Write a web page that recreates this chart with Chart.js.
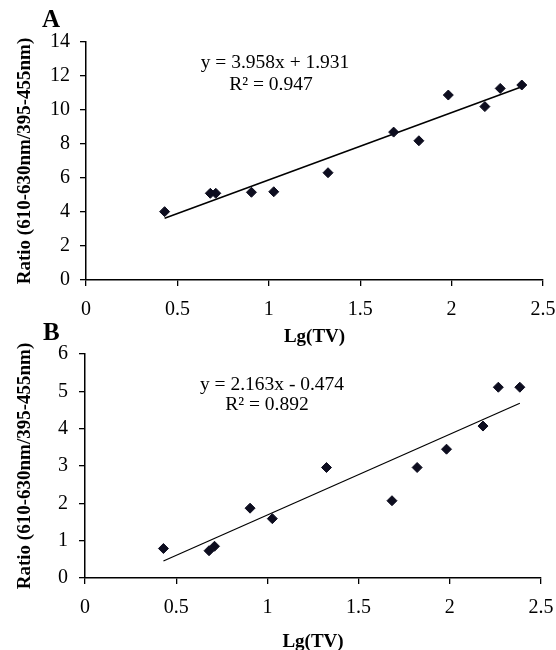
<!DOCTYPE html>
<html>
<head>
<meta charset="utf-8">
<script src="https://cdn.jsdelivr.net/npm/chart.js@4.4.1/dist/chart.umd.min.js"></script>
<style>
    html, body { margin: 0; padding: 0; background: #fff; overflow: hidden; }
    #wrap { position: relative; width: 556px; height: 650px; }
    canvas { position: absolute; left: 0; }
    #chartA { top: 0; }
    #chartB { top: 316px; }
</style>
</head>
<body>
<div id="wrap">
    <canvas id="chartA" width="556" height="350"></canvas>
    <canvas id="chartB" width="556" height="340"></canvas>
</div>
<script>
// Lg(TV) values, shared by both panels
const lgTV = [0.43, 0.68, 0.71, 0.905, 1.027, 1.324, 1.683, 1.821, 1.982, 2.182, 2.266, 2.384];
// panel A ratios
const ratioA = [4.02, 5.1, 5.1, 5.16, 5.19, 6.31, 8.7, 8.19, 10.88, 10.2, 11.27, 11.47];
// panel B ratios
const ratioB = [0.79, 0.73, 0.85, 1.87, 1.59, 2.96, 2.07, 2.96, 3.45, 4.07, 5.11, 5.11];

// trendlines as printed on the chart
const fitA = { slope: 3.958, intercept: 1.931, label: 'y = 3.958x + 1.931', r2: 'R² = 0.947' };
const fitB = { slope: 2.163, intercept: -0.474, label: 'y = 2.163x - 0.474', r2: 'R² = 0.892' };

const xTicks = [0, 0.5, 1, 1.5, 2, 2.5];
const yTicksA = [0, 2, 4, 6, 8, 10, 12, 14];
const yTicksB = [0, 1, 2, 3, 4, 5, 6];

const yTitle = 'Ratio (610-630nm/395-455nm)';
const xTitle = 'Lg(TV)';

const serif = "'Liberation Serif', 'Times New Roman', serif";

// panel letter + trendline equation
const notesPlugin = {
    id: 'notes',
    afterDraw(chart, args, opts) {
        const ctx = chart.ctx;
        ctx.save();
        ctx.fillStyle = '#000';
        ctx.textBaseline = 'alphabetic';
        ctx.textAlign = 'left';
        ctx.font = `bold 25px ${serif}`;
        ctx.fillText(opts.letter, opts.letterX, opts.letterY);

        ctx.font = `19.5px ${serif}`;
        ctx.textAlign = 'center';
        ctx.textBaseline = 'middle';
        ctx.fillText(opts.eq, opts.eqX, opts.eqY);
        ctx.fillText(opts.r2, opts.r2X, opts.r2Y);
        ctx.restore();
    }
};

function buildChart(id, ys, fit, yTicks, yMax, box, notes) {
    const points = lgTV.map((x, i) => ({ x: x, y: ys[i] }));
    const xMin = Math.min(...lgTV);
    const xMax = Math.max(...lgTV);
    const trend = [xMin, xMax].map(x => ({ x: x, y: fit.slope * x + fit.intercept }));

    const axisFont = { family: serif, size: 20 };
    const titleFont = { family: serif, size: 19, weight: 'bold' };

    return new Chart(document.getElementById(id), {
        type: 'scatter',
        data: {
            datasets: [{
                data: points,
                pointStyle: 'rectRot',
                pointRadius: 5,
                backgroundColor: '#0d0d1f',
                borderColor: '#0d0d1f',
                borderWidth: 1,
                order: 0
            }, {
                type: 'line',
                data: trend,
                showLine: true,
                pointRadius: 0,
                borderColor: '#000',
                borderWidth: box.lineWidth,
                fill: false,
                order: 1
            }]
        },
        options: {
            responsive: false,
            animation: false,
            events: [],
            layout: { padding: { top: box.top, right: box.right, left: 0, bottom: 0 } },
            plugins: {
                legend: { display: false },
                tooltip: { enabled: false },
                notes: notes
            },
            scales: {
                x: {
                    type: 'linear',
                    min: 0,
                    max: 2.5,
                    afterBuildTicks: s => { s.ticks = xTicks.map(v => ({ value: v })); },
                    ticks: { color: '#000', font: axisFont, padding: 11.5, callback: v => String(v) },
                    grid: { drawOnChartArea: false, color: '#000', tickLength: 6, lineWidth: 1.3 },
                    border: { color: '#000', width: 1.5 },
                    title: { display: true, text: xTitle, color: '#000', font: titleFont, padding: { top: 0, bottom: box.xTitlePad } },
                    afterFit: s => { s.height = box.xHeight; s.paddingRight = 0; }
                },
                y: {
                    min: 0,
                    max: yMax,
                    afterBuildTicks: s => { s.ticks = yTicks.map(v => ({ value: v })); },
                    ticks: { color: '#000', font: axisFont, padding: box.yTickPad, callback: v => String(v) },
                    grid: { drawOnChartArea: false, color: '#000', tickLength: 6, lineWidth: 1.3 },
                    border: { color: '#000', width: 1.5 },
                    title: { display: true, text: yTitle, color: '#000', font: titleFont, padding: { top: 14, bottom: 0 } },
                    afterFit: s => { s.width = box.yWidth; }
                }
            }
        },
        plugins: [notesPlugin]
    });
}

buildChart('chartA', ratioA, fitA, yTicksA, 14,
    { top: 42, right: 13, xHeight: 70, yWidth: 86, xTitlePad: 2, yTickPad: 10, lineWidth: 1.6 },
    { letter: 'A', letterX: 42, letterY: 27, eq: fitA.label, eqX: 275, eqY: 63, r2: fitA.r2, r2X: 271, r2Y: 85 });

buildChart('chartB', ratioB, fitB, yTicksB, 6,
    { top: 38, right: 15, xHeight: 78, yWidth: 85, xTitlePad: 3, yTickPad: 11, lineWidth: 1.2 },
    { letter: 'B', letterX: 43, letterY: 24, eq: fitB.label, eqX: 272, eqY: 69, r2: fitB.r2, r2X: 267, r2Y: 89 });
</script>
</body>
</html>
